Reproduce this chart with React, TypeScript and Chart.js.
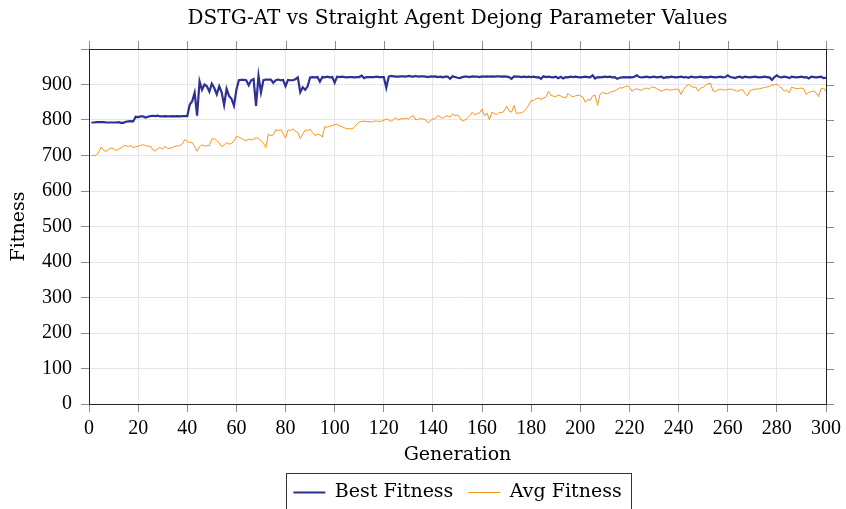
import React, { useEffect, useRef } from 'react';
import { Chart, registerables } from 'chart.js';

Chart.register(...registerables);

const TITLE = 'DSTG-AT vs Straight Agent Dejong Parameter Values';
const X_TITLE = 'Generation';
const Y_TITLE = 'Fitness';
const SERIES_NAMES = ['Best Fitness', 'Avg Fitness'];

// Generations 1..300
const bestFitness: number[] = [
  793, 793, 794, 794, 794, 794, 793, 793, 793, 793,
  793, 794, 792, 792, 795, 796, 797, 796, 809, 808,
  810, 810, 807, 809, 811, 812, 811, 812, 810, 810,
  811, 810, 810, 811, 810, 811, 810, 811, 811, 811,
  843, 853, 877, 812, 909, 885, 900, 895, 880, 902,
  890, 872, 895, 878, 842, 888, 868, 860, 840, 885,
  912, 913, 913, 912, 898, 912, 915, 840, 925, 878,
  912, 914, 914, 914, 905, 912, 914, 912, 913, 895,
  913, 912, 912, 915, 920, 878, 892, 885, 895, 920,
  921, 920, 921, 908, 921, 920, 922, 920, 921, 905,
  922, 921, 922, 921, 920, 921, 921, 920, 921, 921,
  925, 918, 921, 921, 921, 921, 922, 921, 921, 921,
  891, 922, 924, 923, 922, 922, 923, 923, 922, 924,
  923, 922, 924, 922, 923, 923, 922, 921, 923, 922,
  923, 921, 922, 920, 922, 922, 916, 923, 921, 919,
  918, 921, 922, 922, 921, 923, 922, 922, 921, 923,
  922, 923, 922, 923, 922, 923, 923, 922, 923, 922,
  921, 916, 923, 922, 922, 921, 922, 921, 922, 921,
  922, 920, 921, 916, 923, 921, 922, 921, 920, 922,
  918, 922, 917, 921, 920, 922, 921, 922, 921, 920,
  921, 922, 921, 920, 926, 917, 921, 920, 921, 922,
  921, 922, 920, 921, 916, 919, 920, 921, 920, 921,
  920, 922, 926, 921, 920, 921, 922, 920, 921, 922,
  920, 921, 922, 918, 921, 920, 922, 921, 920, 921,
  922, 920, 921, 919, 922, 921, 920, 921, 922, 920,
  921, 920, 922, 921, 920, 921, 922, 920, 921, 926,
  921, 920, 918, 921, 922, 919, 922, 921, 920, 921,
  922, 921, 920, 921, 922, 921, 920, 913, 921, 926,
  921, 920, 922, 921, 918, 922, 921, 920, 921, 922,
  920, 921, 917, 922, 921, 920, 921, 922, 918, 919,
];

const avgFitness: number[] = [
  700, 700, 701, 710, 724, 714, 712, 717, 721, 719,
  714, 718, 721, 727, 728, 725, 728, 722, 725, 726,
  729, 730, 728, 726, 726, 716, 712, 720, 722, 718,
  726, 719, 721, 722, 726, 727, 728, 733, 745, 740,
  736, 737, 725, 712, 726, 730, 726, 728, 728, 747,
  747, 742, 735, 725, 730, 736, 732, 734, 740, 754,
  752, 748, 744, 742, 746, 744, 746, 750, 748, 742,
  735, 722, 760, 756, 758, 773, 770, 773, 762, 749,
  772, 770, 775, 768, 765, 748, 760, 772, 770, 774,
  765, 756, 760, 758, 752, 781, 780, 782, 784, 787,
  787, 784, 781, 778, 775, 776, 775, 780, 788, 794,
  796, 797, 795, 796, 794, 797, 797, 796, 797, 799,
  803, 800, 796, 802, 806, 800, 804, 803, 805, 803,
  808, 813, 800, 802, 804, 803, 800, 792, 798, 803,
  804, 813, 808, 805, 810, 812, 808, 818, 812, 815,
  806, 797, 800, 805, 812, 822, 815, 818, 820, 831,
  812, 820, 801, 822, 818, 815, 822, 820, 826, 839,
  826, 822, 841, 818, 820, 820, 824, 832, 842, 855,
  855, 860, 862, 858, 862, 865, 881, 870, 867, 866,
  870, 868, 864, 862, 875, 868, 866, 868, 870, 868,
  865, 850, 858, 855, 868, 870, 841, 872, 878, 875,
  874, 878, 880, 882, 886, 891, 890, 893, 896, 892,
  881, 886, 888, 885, 884, 888, 890, 887, 893, 892,
  889, 885, 881, 884, 887, 885, 884, 886, 887, 886,
  872, 886, 895, 900, 896, 892, 893, 881, 890, 892,
  898, 902, 903, 882, 880, 885, 887, 885, 884, 886,
  887, 886, 883, 881, 884, 886, 875, 868, 882, 885,
  887, 887, 888, 890, 892, 893, 895, 898, 899, 901,
  894, 890, 881, 885, 876, 893, 890, 888, 889, 890,
  887, 872, 878, 880, 882, 876, 866, 888, 890, 880,
];

const X_MIN = 0;
const X_MAX = 300;
const X_STEP = 20;
const Y_MIN = 0;
const Y_MAX = 1000;
const Y_STEP = 100;

const WORD_FONT = "'DejaVu Serif', serif";
const NUM_FONT = "'Liberation Serif', serif";

const framePlugin = {
  id: 'frame',
  afterDatasetsDraw(chart: any) {
    const { ctx, chartArea: a, scales } = chart;
    ctx.save();
    ctx.lineWidth = 1;
    ctx.strokeStyle = '#8a8a8a';
    ctx.beginPath();
    scales.x.ticks.forEach((t: any) => {
      const px = Math.round(scales.x.getPixelForValue(t.value)) + 0.5;
      ctx.moveTo(px, a.top);
      ctx.lineTo(px, a.top - 8);
    });
    scales.y.ticks.forEach((t: any) => {
      const py = Math.round(scales.y.getPixelForValue(t.value)) + 0.5;
      ctx.moveTo(a.right, py);
      ctx.lineTo(a.right + 8, py);
    });
    ctx.stroke();
    ctx.strokeStyle = '#222';
    ctx.strokeRect(Math.round(a.left) + 0.5, Math.round(a.top) + 0.5, Math.round(a.right - a.left), Math.round(a.bottom - a.top));
    ctx.restore();
  },
};

const legendBoxPlugin = {
  id: 'legendBox',
  afterDraw(chart: any) {
    const lg = chart.legend;
    if (!lg || !lg.legendHitBoxes || !lg.legendHitBoxes.length) return;
    const boxes = lg.legendHitBoxes;
    let l = Infinity, r = -Infinity, t = Infinity;
    boxes.forEach((b: any) => {
      l = Math.min(l, b.left);
      r = Math.max(r, b.left + b.width);
      t = Math.min(t, b.top);
    });
    const { ctx } = chart;
    ctx.save();
    ctx.strokeStyle = '#333';
    ctx.lineWidth = 1;
    ctx.strokeRect(Math.round(l - 7) + 0.5, Math.round(t - 10) + 0.5, Math.round(r - l + 17), chart.height);
    ctx.restore();
  },
};

export default function App() {
  const ref = useRef<HTMLCanvasElement | null>(null);

  useEffect(() => {
    if (!ref.current) return;
    const chart = new Chart(ref.current, {
      type: 'line',
      data: {
        datasets: [
          {
            label: SERIES_NAMES[0],
            data: bestFitness.map((v, i) => ({ x: i + 1, y: v })),
            borderColor: '#2e3192',
            backgroundColor: '#2e3192',
            borderWidth: 2.2,
            pointRadius: 0,
            tension: 0,
          },
          {
            label: SERIES_NAMES[1],
            data: avgFitness.map((v, i) => ({ x: i + 1, y: v })),
            borderColor: '#f7941d',
            backgroundColor: '#f7941d',
            borderWidth: 1,
            pointRadius: 0,
            tension: 0,
          },
        ],
      },
      options: {
        responsive: false,
        animation: false,
        devicePixelRatio: 1,
        layout: { padding: { left: 0, right: 18, top: 0, bottom: -3 } },
        plugins: {
          title: {
            display: true,
            text: TITLE,
            fullSize: false,
            color: '#000',
            font: { family: WORD_FONT, size: 20, weight: 'normal' },
            padding: { top: 7, bottom: 18 },
          },
          legend: {
            position: 'bottom',
            fullSize: false,
            labels: {
              usePointStyle: true,
              pointStyle: 'line',
              pointStyleWidth: 32,
              color: '#000',
              font: { family: WORD_FONT, size: 19 },
              padding: 15,
            },
          },
          tooltip: { enabled: false },
        },
        scales: {
          x: {
            type: 'linear',
            min: X_MIN,
            max: X_MAX,
            afterFit: (s: any) => { s.height = 64; },
            ticks: {
              stepSize: X_STEP,
              color: '#000',
              font: { family: NUM_FONT, size: 20 },
              padding: 5,
              maxRotation: 0,
            },
            grid: { color: '#e6e6e6', tickColor: '#8a8a8a', tickLength: 8, drawOnChartArea: true },
            border: { display: false },
            title: {
              display: true,
              text: X_TITLE,
              color: '#000',
              font: { family: WORD_FONT, size: 19 },
              padding: { top: 0, bottom: 2 },
            },
          },
          y: {
            min: Y_MIN,
            max: Y_MAX,
            afterFit: (s: any) => { s.width = 89; },
            ticks: {
              stepSize: Y_STEP,
              color: '#000',
              font: { family: NUM_FONT, size: 20 },
              padding: 9,
              callback: (v: any) => (v === Y_MAX ? '' : String(v)),
            },
            grid: { color: '#e6e6e6', tickColor: '#8a8a8a', tickLength: 8 },
            border: { display: false },
            title: {
              display: true,
              text: Y_TITLE,
              color: '#000',
              font: { family: WORD_FONT, size: 19 },
              padding: { top: 8, bottom: 0 },
            },
          },
        },
      },
      plugins: [framePlugin, legendBoxPlugin],
    } as any);
    return () => chart.destroy();
  }, []);

  return (
    <div style={{ position: 'fixed', left: 0, top: 0, width: 846, height: 509, background: '#fff' }}>
      <canvas ref={ref} width={846} height={509} />
    </div>
  );
}
